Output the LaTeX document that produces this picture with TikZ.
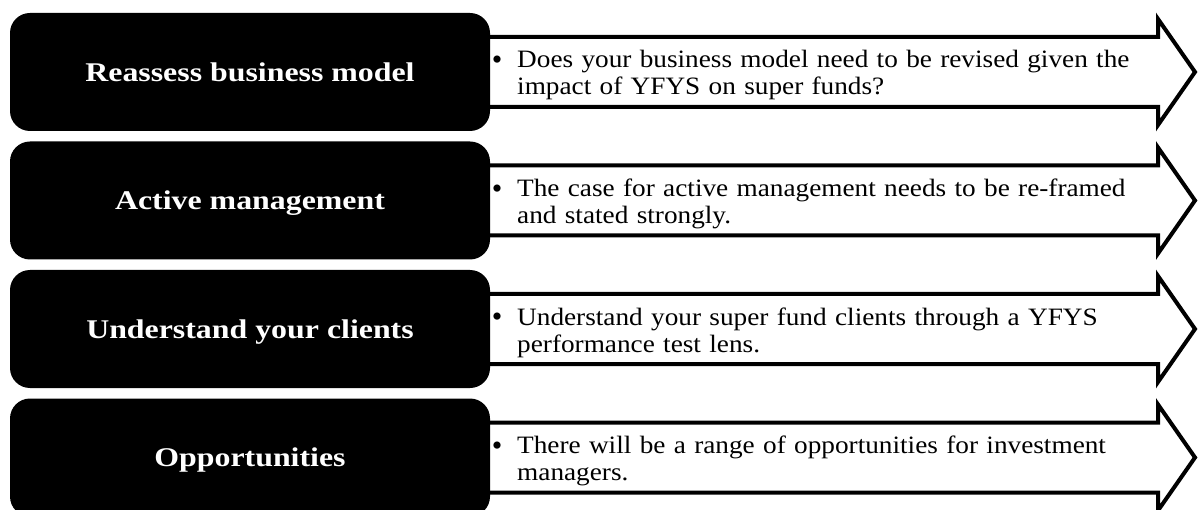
\documentclass[tikz,border=0pt]{standalone}
\usepackage{fontspec}
\setmainfont{Liberation Serif}
\newfontfamily\titlefont[FakeStretch=1.18]{Liberation Serif}
\newfontfamily\bodyfont[FakeStretch=1.09]{Liberation Serif}
\begin{document}
\begin{tikzpicture}[x=1pt,y=-1pt,
  titlebox/.style={fill=black,rounded corners=20pt,minimum width=480pt,minimum height=118pt,
    inner sep=0pt,text height=18.5pt,text depth=0pt,text=white,
    font=\titlefont\fontsize{27}{30}\selectfont\bfseries},
  arrowbody/.style={draw=black,line width=4pt,fill=white,line join=miter},
  bulletmark/.style={inner sep=0pt,font=\fontsize{30}{30}\selectfont},
  bullettext/.style={inner sep=0pt,anchor=base west,align=left,text width=640pt,
    font=\bodyfont\fontsize{25}{27}\selectfont}]
\useasboundingbox (0,0) rectangle (1198,510);
% one row: arrow, black title box on top of it, bullet and text
\foreach \n/\cy/\title/\body in {
  1/72/Reassess business model/{Does your business model need to be revised given the\\impact of YFYS on super funds?},
  2/200.5/Active management/{The case for active management needs to be re-framed\\and stated strongly.},
  3/329/Understand your clients/{Understand your super fund clients through a YFYS\\performance test lens.},
  4/457.5/Opportunities/{There will be a range of opportunities for investment\\managers.}}{
  \draw[arrowbody] (480,\cy-35) -- (1158,\cy-35) -- (1158,\cy-53) -- (1195,\cy)
     -- (1158,\cy+53) -- (1158,\cy+35) -- (480,\cy+35) -- cycle;
  \node[titlebox] (box\n) at (250,\cy) {\title};
  \node[bullettext] (txt\n) at (517,\cy-4) {\body};
  \node[bulletmark] (dot\n) at (497,\cy-9) {\textbullet};
}
\end{tikzpicture}
\end{document}
